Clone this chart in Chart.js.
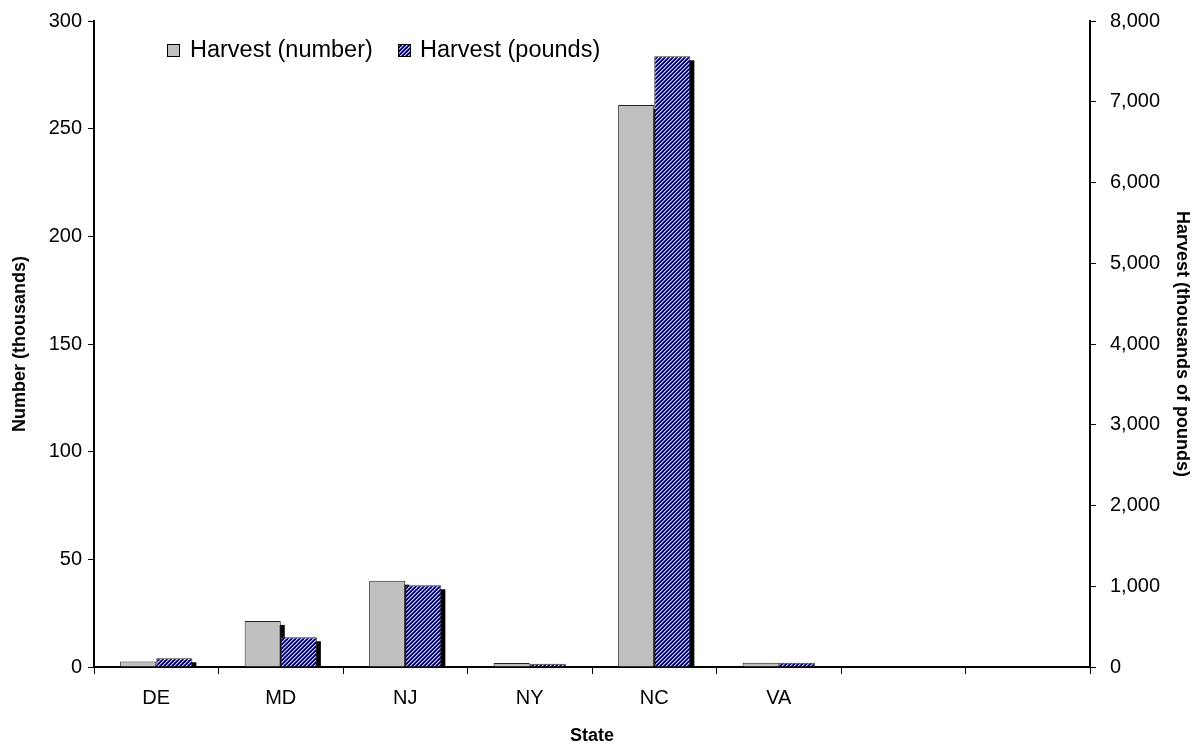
<!DOCTYPE html>
<html>
<head>
<meta charset="utf-8">
<script src="https://cdn.jsdelivr.net/npm/chart.js@4"></script>
<style>
  body { margin: 0; background: #fff; }
  #wrap { width: 1192px; height: 745px; }
</style>
</head>
<body>
<div id="wrap"><canvas id="myChart"></canvas></div>
<script>
const states = ['DE', 'MD', 'NJ', 'NY', 'NC', 'VA', '', '']
const harvestNumber = [2.6, 21.4, 40.1, 1.9, 261, 2.0, null, null]
const harvestPounds = [108, 368, 1012, 40, 7563, 53, null, null]
const leftTicks = { min: 0, max: 300, step: 50 }
const rightTicks = { min: 0, max: 8000, step: 1000 }

const FONT = 'Arial, "Liberation Sans", sans-serif'

// navy hatch, light diagonal stripes
function hatch() {
  const c = document.createElement('canvas')
  c.width = 4
  c.height = 4
  const g = c.getContext('2d')
  g.fillStyle = '#000080'
  g.fillRect(0, 0, 4, 4)
  for (let i = 0; i < 4; i++) {
    g.fillStyle = i % 2 ? '#b8b8c8' : '#e8e8f0'
    g.fillRect(i, 3 - i, 1, 1)
    g.fillStyle = '#6a6aa8'
    g.fillRect((i + 1) % 4, 3 - i, 1, 1)
  }
  return g.createPattern(c, 'repeat')
}
const navyHatch = hatch()

// black drop shadows, all drawn before any bar so the next bar covers them
// (bar draw clips canvas shadows, so they are painted here)
const shadowPlugin = {
  id: 'barShadow',
  beforeDatasetsDraw(chart) {
    const ctx = chart.ctx
    const area = chart.chartArea
    ctx.save()
    ctx.beginPath()
    ctx.rect(area.left, area.top, area.right - area.left, area.bottom - area.top)
    ctx.clip()
    ctx.fillStyle = '#000'
    chart.data.datasets.forEach((ds, i) => {
      chart.getDatasetMeta(i).data.forEach(bar => {
        const p = bar.getProps(['x', 'y', 'base', 'width'], true)
        if (p.y == null || isNaN(p.y)) return
        const top = Math.min(p.y, p.base)
        const h = Math.abs(p.base - p.y)
        ctx.fillRect(p.x - p.width / 2 + 4, top + 4, p.width, h)
      })
    })
    ctx.restore()
  }
}

// legend sits inside the plot, toward the left
const legendPlugin = {
  id: 'innerLegend',
  afterDraw(chart) {
    const ctx = chart.ctx
    const items = [
      { x: 167, textX: 190 },
      { x: 398, textX: 420 }
    ]
    ctx.save()
    ctx.font = '23.5px ' + FONT
    ctx.textBaseline = 'middle'
    chart.data.datasets.forEach((ds, i) => {
      const it = items[i]
      ctx.fillStyle = ds.backgroundColor
      ctx.fillRect(it.x, 44, 13, 13)
      ctx.strokeStyle = '#000'
      ctx.lineWidth = 1
      ctx.strokeRect(it.x + 0.5, 44.5, 12, 12)
      ctx.fillStyle = '#000'
      ctx.fillText(ds.label, it.textX, 51)
    })
    ctx.restore()
  }
}

const tickFont = { family: FONT, size: 20 }
const titleFont = { family: FONT, size: 18, weight: 'bold', lineHeight: 1 }

new Chart(document.getElementById('myChart').getContext('2d'), {
  type: 'bar',
  data: {
    labels: states,
    datasets: [
      {
        label: 'Harvest (number)',
        data: harvestNumber,
        yAxisID: 'y',
        backgroundColor: '#c0c0c0',
        borderColor: '#222',
        borderWidth: 1,
        clip: 0
      },
      {
        label: 'Harvest (pounds)',
        data: harvestPounds,
        yAxisID: 'y1',
        backgroundColor: navyHatch,
        borderColor: '#333',
        borderWidth: 1,
        clip: 0
      }
    ]
  },
  plugins: [shadowPlugin, legendPlugin],
  options: {
    responsive: true,
    maintainAspectRatio: false,
    animation: false,
    layout: { padding: { top: 21, left: 0, right: 0, bottom: 0 } },
    datasets: { bar: { categoryPercentage: 0.58, barPercentage: 1 } },
    plugins: {
      legend: { display: false },
      tooltip: { enabled: false }
    },
    scales: {
      x: {
        offset: true,
        grid: { offset: true, drawOnChartArea: false, tickLength: 7, tickColor: '#000', lineWidth: 1 },
        border: { color: '#000', width: 2 },
        ticks: { color: '#000', font: tickFont, padding: 12, maxRotation: 0, autoSkip: false },
        title: { display: true, text: 'State', color: '#000', font: titleFont, padding: { top: 0, bottom: 0 } },
        afterFit(s) { s.height = 78 }
      },
      y: {
        position: 'left',
        min: leftTicks.min,
        max: leftTicks.max,
        ticks: { stepSize: leftTicks.step, color: '#000', font: tickFont, padding: 6 },
        grid: { drawOnChartArea: false, tickLength: 6, tickColor: '#000' },
        border: { color: '#000', width: 2 },
        title: { display: true, text: 'Number (thousands)', color: '#000', font: titleFont, padding: { top: 11, bottom: 0 } },
        afterFit(s) { s.width = 94; s.paddingTop = 0 }
      },
      y1: {
        position: 'right',
        min: rightTicks.min,
        max: rightTicks.max,
        ticks: { stepSize: rightTicks.step, color: '#000', font: tickFont, padding: 14 },
        grid: { drawOnChartArea: false, tickLength: 6, tickColor: '#000' },
        border: { color: '#000', width: 2 },
        title: { display: true, text: 'Harvest (thousands of pounds)', color: '#000', font: titleFont, padding: { top: 1, bottom: 0 } },
        afterFit(s) { s.width = 102; s.paddingTop = 0 }
      }
    }
  }
})
</script>
</body>
</html>
